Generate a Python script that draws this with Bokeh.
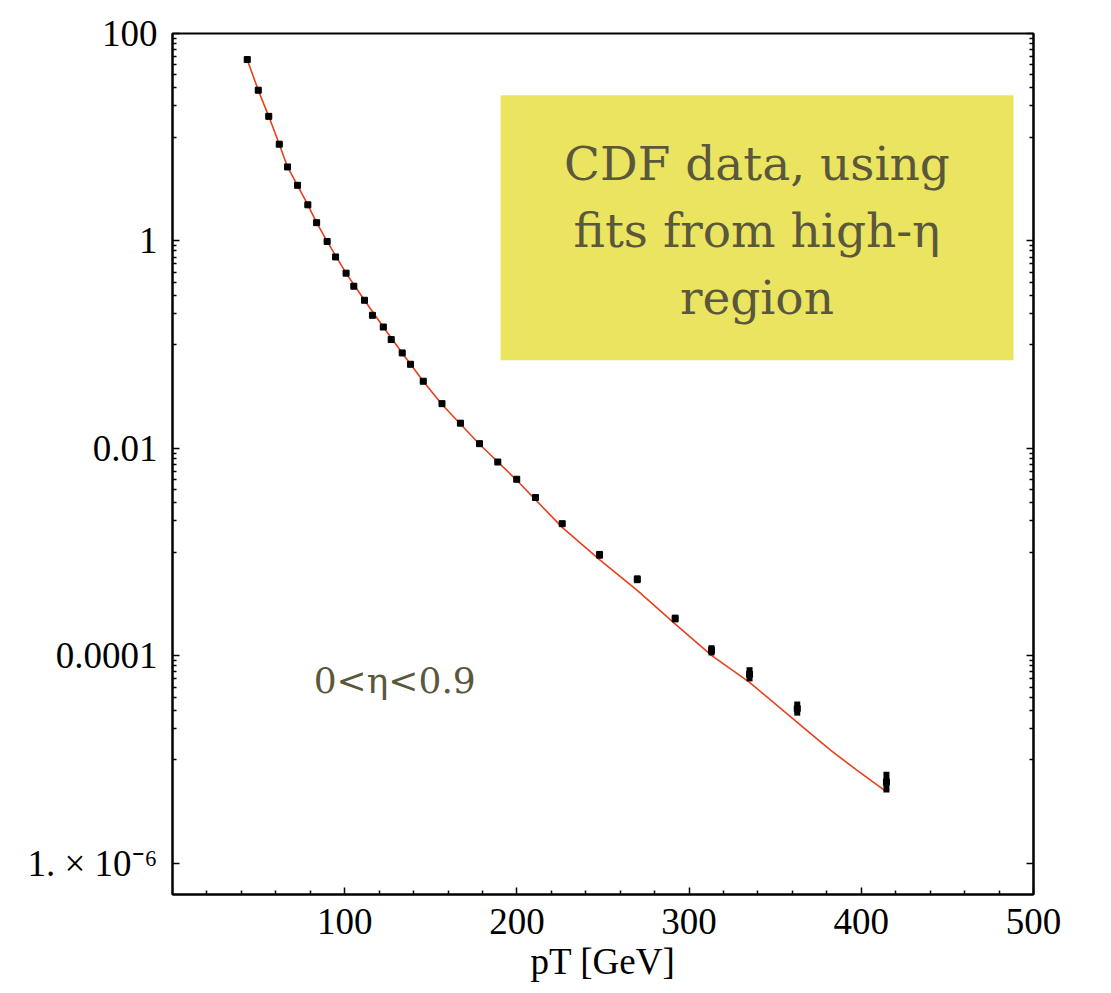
from bokeh.plotting import figure
from bokeh.models import (FixedTicker, CustomJSTickFormatter, LogAxis, BoxAnnotation,
                          Label, Range1d, ColumnDataSource)
from bokeh.embed import file_html
from bokeh.resources import INLINE

# ---------------- data ----------------
pt_x = [43.4, 49.8, 55.9, 62.0, 66.8, 72.6, 78.6, 83.7, 89.8, 94.7, 100.8, 105.3,
        111.5, 116.1, 122.4, 127.0, 133.4, 138.2, 145.6, 156.5, 167.2, 178.3, 188.9,
        199.9, 210.8, 226.3, 248.0, 269.9, 291.9, 313.0, 335.1, 362.8, 414.6]
pt_y = [56.1, 28.4, 15.9, 8.57, 5.17, 3.44, 2.23, 1.50, 0.989, 0.701, 0.489, 0.366,
        0.268, 0.192, 0.148, 0.112, 0.0832, 0.0647, 0.0444, 0.0270, 0.0175, 0.0111,
        0.00739, 0.00504, 0.00336, 0.00188, 9.42e-4, 5.47e-4, 2.29e-4, 1.13e-4,
        6.64e-5, 3.10e-5, 6.07e-6]
pt_err = [0.03, 0.03, 0.03, 0.03, 0.03, 0.03, 0.03, 0.03, 0.03, 0.03, 0.03, 0.03,
          0.03, 0.03, 0.03, 0.03, 0.03, 0.03, 0.03, 0.03, 0.03, 0.03, 0.03, 0.03,
          0.03, 0.04, 0.09, 0.09, 0.09, 0.12, 0.17, 0.17, 0.26]

fit_x = [43.5, 49.8, 55.9, 62.0, 66.8, 72.6, 78.6, 83.7, 89.8, 100.8, 111.5, 122.4,
         133.4, 145.6, 156.5, 178.3, 199.9, 226.3, 248.5, 269.9, 291.5, 313.0, 335.1,
         362.8, 382.1, 397.6, 413.5]
fit_y = [55.3, 28.4, 15.9, 8.57, 5.17, 3.44, 2.23, 1.50, 0.99, 0.489, 0.268, 0.148,
         0.083, 0.0444, 0.0265, 0.01096, 0.00493, 0.00173, 8.34e-4, 4.28e-4, 2.06e-4,
         1.01e-4, 5.55e-5, 2.28e-5, 1.23e-5, 7.87e-6, 5.05e-6]

x_ticks = [100, 200, 300, 400, 500]
x_minor = [20, 40, 60, 80, 120, 140, 160, 180, 220, 240, 260, 280, 320, 340, 360,
           380, 420, 440, 460, 480]
y_ticks = [1e-6, 1e-4, 1e-2, 1, 100]
y_tick_labels = ["1. \u00d7 10\u207b\u2076", "0.0001", "0.01", "1", "100"]
y_minor = [m * 10.0 ** e for e in (1, -1, -3, -5) for m in range(1, 10)]

x_title = "pT [GeV]"
box_text = ["CDF data, using", "fits from high-\u03b7", "region"]
eta_text = "0<\u03b7<0.9"

# ---------------- figure ----------------
p = figure(width=1103, height=985, x_range=Range1d(0, 500), y_range=Range1d(5e-7, 100),
           y_axis_type="log", output_backend="svg", toolbar_location=None,
           min_border_left=172, min_border_right=70, min_border_top=33,
           min_border_bottom=91, background_fill_color="white",
           border_fill_color="white", outline_line_color="black",
           outline_line_width=2)
p.xgrid.visible = False
p.ygrid.visible = False

yfmt = CustomJSTickFormatter(args=dict(vals=y_ticks, labs=y_tick_labels), code="""
for (let i = 0; i < vals.length; i++) {
  if (Math.abs(Math.log10(tick) - Math.log10(vals[i])) < 1e-6) return labs[i];
}
return '';
""")

def style_axis(ax):
    ax.axis_line_color = "black"
    ax.axis_line_width = 2
    ax.major_tick_in = 7
    ax.major_tick_out = 0
    ax.minor_tick_in = 4
    ax.minor_tick_out = 0
    ax.major_tick_line_color = "black"
    ax.minor_tick_line_color = "black"
    ax.major_tick_line_width = 1.5
    ax.minor_tick_line_width = 1.5
    ax.major_label_text_font = "Liberation Serif"
    ax.major_label_text_font_size = "37px"
    ax.major_label_text_color = "black"

xa = p.xaxis[0]
xa.ticker = FixedTicker(ticks=x_ticks, minor_ticks=x_minor)
style_axis(xa)
xa.major_label_standoff = 14
xa.axis_label = x_title
xa.axis_label_text_font = "Liberation Serif"
xa.axis_label_text_font_size = "37px"
xa.axis_label_text_font_style = "normal"
xa.axis_label_text_color = "black"
xa.axis_label_standoff = 4

ya = p.yaxis[0]
ya.ticker = FixedTicker(ticks=y_ticks, minor_ticks=y_minor)
ya.formatter = yfmt
style_axis(ya)
ya.major_label_standoff = 15

ra = LogAxis(ticker=FixedTicker(ticks=y_ticks, minor_ticks=y_minor),
             formatter=CustomJSTickFormatter(code="return '';"))
style_axis(ra)
ra.major_label_standoff = 0
p.add_layout(ra, "right")

# ---------------- glyphs ----------------
p.line(fit_x, fit_y, line_color="#e8401c", line_width=1.6)

err_src = ColumnDataSource(dict(
    x=pt_x,
    lo=[y / (1 + e) for y, e in zip(pt_y, pt_err)],
    hi=[y * (1 + e) for y, e in zip(pt_y, pt_err)],
))
p.segment(x0="x", y0="lo", x1="x", y1="hi", source=err_src, line_color="black",
          line_width=6, line_cap="butt")
p.scatter(pt_x, pt_y, marker="square", size=6, fill_color="black", line_color="black")

# ---------------- annotations ----------------
p.add_layout(BoxAnnotation(left=190.5, right=488.4, top=25.4, bottom=0.0708,
                           fill_color="#ebe461", fill_alpha=1.0, line_color=None))
for txt, yy in zip(box_text, [5.61, 1.27, 0.286]):
    p.add_layout(Label(x=339.4, y=yy, text=txt, text_align="center",
                       text_baseline="middle", text_font="DejaVu Serif",
                       text_font_size="47px", text_color="#5a583c"))

p.add_layout(Label(x=82, y=5.8e-5, text=eta_text, text_align="left",
                   text_baseline="middle", text_font="DejaVu Serif",
                   text_font_size="36px", text_color="#5a583c"))

open("out.html", "w").write(file_html(p, INLINE))
